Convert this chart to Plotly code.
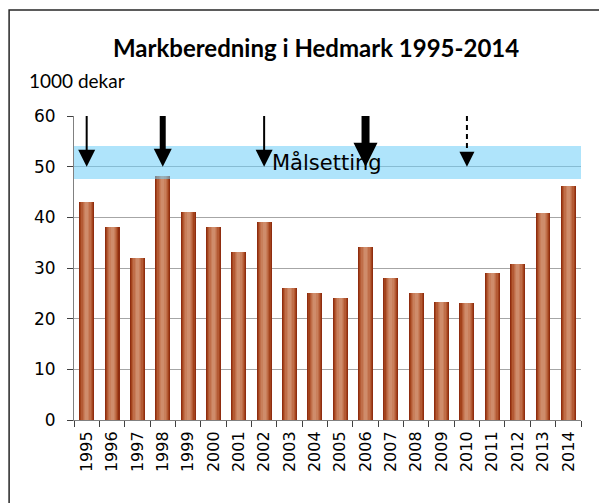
import plotly.graph_objects as go

years = [str(y) for y in range(1995, 2015)]
values = [43, 38, 32, 48.2, 41, 38, 33.2, 39, 26, 25, 24, 34.1, 28, 25, 23.3, 23.1, 29, 30.7, 40.9, 46.2]
target_low = 47.5
target_high = 54
target_label = "Målsetting"
arrow_years = ["1995", "1998", "2002", "2006", "2010"]
arrow_top = 60
arrow_tip = 50
title_text = "Markberedning i Hedmark 1995-2014"
unit_text = "1000 dekar"

# styles
arrow_line_widths = [2, 6, 2, 8, 2]
arrow_dash = ["solid", "solid", "solid", "solid", "5px,4px"]
arrow_head_sizes = [17, 18, 17, 24, 15]
layer_widths = [0.59, 0.51, 0.42, 0.32, 0.22, 0.12]
layer_colors = ["#8f2d10", "#a3431c", "#b45a34", "#c06e49", "#c97f5b", "#cf8c6b"]

fig = go.Figure()

for w, c in zip(layer_widths, layer_colors):
    fig.add_trace(go.Bar(x=years, y=values, width=w, marker=dict(color=c, line=dict(width=0)),
                         showlegend=False, hoverinfo="skip"))

# target band as a wide bar
fig.add_trace(go.Bar(x=[years[0]], y=[target_high - target_low], base=[target_low],
                     width=len(years), offset=-0.5,
                     marker=dict(color="rgba(110,205,248,0.55)", line=dict(width=0)),
                     showlegend=False, hoverinfo="skip"))

for yr, lw, dsh, hs in zip(arrow_years, arrow_line_widths, arrow_dash, arrow_head_sizes):
    fig.add_trace(go.Scatter(x=[yr, yr], y=[arrow_top, arrow_tip + 2.5], mode="lines",
                             line=dict(color="black", width=lw, dash=dsh),
                             showlegend=False, hoverinfo="skip"))
    fig.add_trace(go.Scatter(x=[yr], y=[arrow_tip], mode="markers",
                             marker=dict(symbol="arrow-down", size=hs, color="black", line=dict(width=0)),
                             showlegend=False, hoverinfo="skip"))

fig.update_layout(
    width=599, height=503,
    margin=dict(l=74, r=18, t=116, b=83),
    barmode="overlay",
    bargap=0,
    plot_bgcolor="white",
    paper_bgcolor="white",
    showlegend=False,
)

fig.update_xaxes(type="category", tickson="boundaries", ticks="outside", ticklen=6,
                 tickcolor="#404040", showline=True, linecolor="#808080", linewidth=1,
                 tickangle=-90, tickfont=dict(family="DejaVu Sans", size=16, color="black"),
                 ticklabelstandoff=4,
                 showgrid=False, range=[-0.5, len(years) - 0.5])
fig.update_yaxes(range=[0, 60], dtick=10, ticks="outside", ticklen=6, tickcolor="#404040",
                 showline=True, linecolor="#808080", linewidth=1,
                 gridcolor="#a6a6a6", gridwidth=1, zeroline=False,
                 ticklabelstandoff=8,
                 tickfont=dict(family="DejaVu Sans", size=17, color="black"))

fig.add_annotation(text="<b>" + title_text + "</b>", xref="paper", yref="paper",
                   x=0.477, y=1.224, xanchor="center", yanchor="middle", showarrow=False,
                   font=dict(family="Lato", size=24, color="black"))
fig.add_annotation(text=unit_text, xref="paper", yref="paper",
                   x=-0.093, y=1.118, xanchor="left", yanchor="middle", showarrow=False,
                   font=dict(family="Lato", size=19, color="black"))
fig.add_annotation(text=target_label, xref="paper", yref="y",
                   x=0.386, y=50.9, xanchor="left", yanchor="middle", showarrow=False,
                   font=dict(family="DejaVu Sans", size=21, color="black"))

# outer chart border
fig.add_shape(type="rect", xref="paper", yref="paper", x0=-0.128, x1=1.2, y0=-0.5, y1=1.349,
              line=dict(color="#262626", width=1.5), fillcolor="rgba(0,0,0,0)", layer="below")

fig.write_html("out.html", post_script="document.body.style.margin='0';",
               config={"displayModeBar": False})
